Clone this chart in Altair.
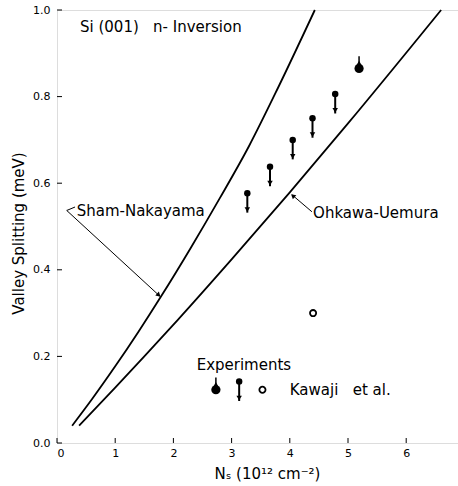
import altair as alt
import pandas as pd

# ---- data ----
sham_x = [0.26, 0.6, 1.0, 1.4, 1.8, 2.3, 2.8, 3.3, 3.8, 4.43]
sham_y = [0.04, 0.101, 0.177, 0.257, 0.341, 0.451, 0.566, 0.686, 0.821, 1.0]
ohkawa_x = [0.38, 1.0, 1.5, 2.08, 3.0, 4.0, 5.0, 6.6]
ohkawa_y = [0.04, 0.128, 0.20, 0.285, 0.424, 0.579, 0.738, 1.0]

pin_x = [3.27, 3.66, 4.05, 4.39, 4.78]          # filled dot, arrow down (upper bound)
pin_y = [0.577, 0.638, 0.70, 0.75, 0.806]
dot_x = [5.19]                                  # big filled dot, arrow up
dot_y = [0.865]
open_x = [4.40]                                 # open circle (Kawaji et al.)
open_y = [0.30]

x_ticks = [0, 1, 2, 3, 4, 5, 6]
y_ticks = [0.0, 0.2, 0.4, 0.6, 0.8, 1.0]

# legend symbols (annotation positions in data units)
leg_dot_x, leg_dot_y = [2.73], [0.123]
leg_pin_x, leg_pin_y = [3.13], [0.142]
leg_open_x, leg_open_y = [3.53], [0.123]

NB = "\u00a0"
label_text = ["Si (001)" + NB * 3 + "n-" + NB + "Inversion", "Sham-Nakayama", "Ohkawa-Uemura",
              "Experiments", "Kawaji" + NB * 3 + "et al."]
label_x = [0.395, 0.338, 4.40, 2.40, 4.0]
label_y = [0.961, 0.535, 0.532, 0.181, 0.123]

# leader lines
sham_lead_x = [0.31, 0.167, 1.76]
sham_lead_y = [0.545, 0.537, 0.34]
ohk_lead_x = [4.38, 4.04]
ohk_lead_y = [0.534, 0.573]
head_x = [1.749, 4.052]
head_y = [0.3416, 0.571]
head_angle = [132.5, 310.3]

W, H = 401, 433
XDOM = [0, 6.89]
YDOM = [0, 1.0]


def X(f):
    return alt.X(f, scale=alt.Scale(domain=XDOM, nice=False, zero=False),
                 axis=alt.Axis(values=x_ticks, format="d", ticks=False, domain=False, grid=False,
                               labelFontSize=11, labelColor="black", labelPadding=4,
                               title="Nₛ  (10¹² cm⁻²)", titleFontSize=15, titleFontWeight="normal",
                               titleColor="black", titleX=210, titleY=30, titleAlign="center",
                               titleBaseline="middle"))


def Y(f):
    return alt.Y(f, scale=alt.Scale(domain=YDOM, nice=False, zero=False),
                 axis=alt.Axis(values=y_ticks, format=".1f", ticks=False, domain=False, grid=False,
                               labelFontSize=11, labelColor="black", labelPadding=7,
                               title="Valley Splitting (meV)", titleFontSize=15, titleFontWeight="normal",
                               titleColor="black", titleX=-39, titleY=223, titleAngle=270,
                               titleAlign="center", titleBaseline="middle"))


curves = pd.DataFrame({
    "x": sham_x + ohkawa_x,
    "y": sham_y + ohkawa_y,
    "s": ["sham"] * len(sham_x) + ["ohk"] * len(ohkawa_x),
    "o": list(range(len(sham_x))) + list(range(len(ohkawa_x))),
})
curve_layer = alt.Chart(curves).mark_line(color="black", strokeWidth=1.8, interpolate="monotone").encode(
    x=X("x:Q"), y=Y("y:Q"), detail="s:N", order="o:Q")

leads = pd.DataFrame({
    "x": sham_lead_x + ohk_lead_x,
    "y": sham_lead_y + ohk_lead_y,
    "s": ["a"] * len(sham_lead_x) + ["b"] * len(ohk_lead_x),
    "o": list(range(len(sham_lead_x))) + list(range(len(ohk_lead_x))),
})
lead_layer = alt.Chart(leads).mark_line(color="black", strokeWidth=1).encode(
    x=X("x:Q"), y=Y("y:Q"), detail="s:N", order="o:Q")

heads = pd.DataFrame({"x": head_x, "y": head_y, "a": head_angle})
head_layer = alt.Chart(heads).mark_point(shape="triangle-up", filled=True, color="black", opacity=1, size=28).encode(
    x=X("x:Q"), y=Y("y:Q"), angle=alt.Angle("a:Q", scale=None))

pins = pd.DataFrame({"x": pin_x + leg_pin_x, "y": pin_y + leg_pin_y})
pin_base = alt.Chart(pins).transform_calculate(tip="datum.y - 0.045")
pin_head = pin_base.mark_point(shape="circle", filled=True, color="black", opacity=1, size=42).encode(
    x=X("x:Q"), y=Y("y:Q"))
pin_shaft = pin_base.mark_rule(color="black", strokeWidth=2).encode(x=X("x:Q"), y=Y("y:Q"), y2="tip:Q")
pin_tip = pin_base.mark_point(shape="triangle-down", filled=True, color="black", opacity=1, size=30, yOffset=-3).encode(
    x=X("x:Q"), y=Y("tip:Q"))

dots = pd.DataFrame({"x": dot_x + leg_dot_x, "y": dot_y + leg_dot_y})
dot_base = alt.Chart(dots).transform_calculate(top="datum.y + 0.028", mid="datum.y + 0.013")
dot_body = dot_base.mark_point(shape="circle", filled=True, color="black", opacity=1, size=85).encode(
    x=X("x:Q"), y=Y("y:Q"))
dot_shaft = dot_base.mark_rule(color="black", strokeWidth=1.5).encode(x=X("x:Q"), y=Y("y:Q"), y2="top:Q")
dot_tip = dot_base.mark_point(shape="triangle-up", filled=True, color="black", opacity=1, size=22).encode(
    x=X("x:Q"), y=Y("mid:Q"))

opens = pd.DataFrame({"x": open_x + leg_open_x, "y": open_y + leg_open_y})
open_layer = alt.Chart(opens).mark_point(shape="circle", filled=False, color="black", strokeWidth=1.8, opacity=1, size=38).encode(
    x=X("x:Q"), y=Y("y:Q"))

labels = pd.DataFrame({"t": label_text, "x": label_x, "y": label_y})
label_layer = alt.Chart(labels).mark_text(align="left", baseline="middle", fontSize=15, color="black").encode(
    x=X("x:Q"), y=Y("y:Q"), text="t:N")

xt = pd.DataFrame({"v": x_ticks})
xtick_layer = alt.Chart(xt).mark_rule(color="black", strokeWidth=1).encode(
    x=X("v:Q"), y=alt.value(H), y2=alt.value(H - 5))
yt = pd.DataFrame({"v": y_ticks})
ytick_layer = alt.Chart(yt).mark_rule(color="black", strokeWidth=1).encode(
    y=Y("v:Q"), x=alt.value(0), x2=alt.value(5))

chart = alt.layer(
    curve_layer, lead_layer, head_layer, pin_shaft, pin_head, pin_tip,
    dot_shaft, dot_tip, dot_body, open_layer, label_layer, xtick_layer, ytick_layer
).properties(
    width=W, height=H,
    padding={"left": 57, "top": 10, "right": 0, "bottom": 43},
    autosize=alt.AutoSizeParams(type="none"),
    background="white",
).configure_view(
    stroke="black", strokeWidth=1.5
).configure(
    font="DejaVu Sans"
)

chart.save("out.html", embed_options={"renderer": "svg", "actions": False})
